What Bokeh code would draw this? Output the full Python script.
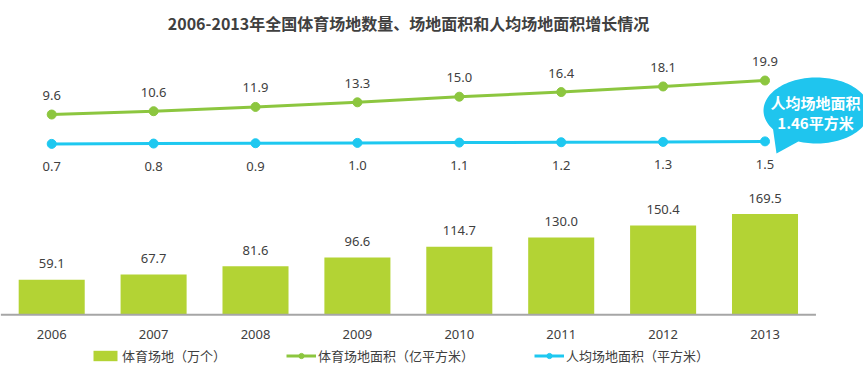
import numpy as np
from bokeh.plotting import figure
from bokeh.models import Range1d, ColumnDataSource, Label
from bokeh.core.properties import value
from bokeh.embed import file_html
from bokeh.resources import INLINE

# ---------------- data ----------------
years = ["2006", "2007", "2008", "2009", "2010", "2011", "2012", "2013"]
venues = [59.1, 67.7, 81.6, 96.6, 114.7, 130.0, 150.4, 169.5]          # 体育场地（万个）
area = [9.6, 10.6, 11.9, 13.3, 15.0, 16.4, 18.1, 19.9]                  # 体育场地面积（亿平方米）
per_capita = [0.7, 0.8, 0.9, 1.0, 1.1, 1.2, 1.3, 1.46]                  # 人均场地面积（平方米）

title_text = "2006-2013年全国体育场地数量、场地面积和人均场地面积增长情况"
bar_name = "体育场地（万个）"
area_name = "体育场地面积（亿平方米）"
pc_name = "人均场地面积（平方米）"
callout_lines = ["人均场地面积", "1.46平方米"]

# ---------------- style ----------------
W, H = 863, 367
XR = (-0.5025, 7.9666)
BR = (-88.72, 529.13)
LR = (-67.06, 44.15)
BAR_C = "#b3d334"
GREEN = "#8cc63f"
BLUE = "#1ec8f0"
BUBBLE = "#1fc5ee"
TXT = "#404040"
CJK_NAME = "Noto Sans CJK SC"
CJK = value(CJK_NAME)
NUM = value("Noto Sans")

x = list(range(len(years)))
src = ColumnDataSource(dict(
    x=x, years=years, venues=venues, area=area, pc=per_capita,
    venues_lbl=[f"{v:.1f}" for v in venues],
    area_lbl=[f"{v:.1f}" for v in area],
    pc_lbl=[f"{v:.1f}" for v in per_capita],
    zero=[0] * len(years),
))

p = figure(width=W, height=H, x_range=Range1d(*XR), y_range=Range1d(*BR),
           output_backend="svg", toolbar_location=None,
           x_axis_type=None, y_axis_type=None, min_border=0)
p.extra_y_ranges = {"line": Range1d(*LR)}
p.grid.visible = False
p.outline_line_color = None
p.background_fill_color = "white"
p.border_fill_color = "white"


def dx(px):
    return XR[0] + px * (XR[1] - XR[0]) / W


def dy_bar(py):
    return BR[0] + py * (BR[1] - BR[0]) / H


def dy_line(py):
    return LR[0] + py * (LR[1] - LR[0]) / H


# bars
p.vbar(x="x", top="venues", bottom=0, width=0.648, source=src,
       fill_color=BAR_C, line_color=None, legend_label=bar_name)
p.text(x="x", y="venues", text="venues_lbl", source=src, y_offset=-16,
       text_align="center", text_baseline="middle", text_font=NUM,
       text_font_size="13px", text_color=TXT)

# category axis line + year labels
p.segment(x0=-0.5, y0=0, x1=len(years) - 0.5, y1=0, line_color="#a6a6a6", line_width=2)
p.text(x="x", y="zero", text="years", source=src, y_offset=20,
       text_align="center", text_baseline="middle", text_font=NUM,
       text_font_size="13px", text_color=TXT)

# green line
p.line(x="x", y="area", source=src, y_range_name="line", line_color=GREEN,
       line_width=3, legend_label=area_name)
p.scatter(x="x", y="area", source=src, y_range_name="line", size=9,
          fill_color=GREEN, line_color=GREEN, legend_label=area_name)
p.text(x="x", y="area", text="area_lbl", source=src, y_range_name="line", y_offset=-19,
       text_align="center", text_baseline="middle", text_font=NUM,
       text_font_size="13px", text_color=TXT)

# blue line
p.line(x="x", y="pc", source=src, y_range_name="line", line_color=BLUE,
       line_width=3, legend_label=pc_name)
p.scatter(x="x", y="pc", source=src, y_range_name="line", size=9,
          fill_color=BLUE, line_color=BLUE, legend_label=pc_name)
p.text(x="x", y="pc", text="pc_lbl", source=src, y_range_name="line", y_offset=23,
       text_align="center", text_baseline="middle", text_font=NUM,
       text_font_size="13px", text_color=TXT)

# title
p.add_layout(Label(x=dx(408), y=dy_bar(345), text=title_text, text_align="center",
                   text_baseline="middle", text_font=CJK_NAME, text_font_size="16px",
                   text_font_style="bold", text_color=TXT))

# speech bubble callout (pixel geometry -> data coords)
cx, cy, rx, ry = 816, 257, 53, 33
a_start, a_end = np.deg2rad(250), np.deg2rad(215 + 360)
ang = np.linspace(a_start, a_end, 120)
bx = list(cx + rx * np.cos(ang)) + [cx - 40]
by = list(cy + ry * np.sin(ang)) + [cy - 43]
p.patch([dx(v) for v in bx], [dy_line(v) for v in by], y_range_name="line",
        fill_color=BUBBLE, line_color=None)
for txt, py in zip(callout_lines, [265, 245]):
    p.add_layout(Label(x=dx(815), y=dy_line(py), y_range_name="line", text=txt,
                       text_align="center", text_baseline="middle", text_font=CJK_NAME,
                       text_font_size="15px", text_font_style="bold", text_color="white"))

# legend
lg = p.legend[0]
lg.location = (90, 2)
lg.orientation = "horizontal"
lg.spacing = 60
lg.padding = 0
lg.margin = 0
lg.border_line_color = None
lg.background_fill_alpha = 0
lg.glyph_width = 30
lg.glyph_height = 13
lg.label_standoff = 2
lg.label_height = 13
lg.label_text_font = CJK_NAME
lg.label_text_font_size = "13px"
lg.label_text_color = TXT
lg.label_text_baseline = "middle"

open("out.html", "w").write(file_html(p, INLINE))
